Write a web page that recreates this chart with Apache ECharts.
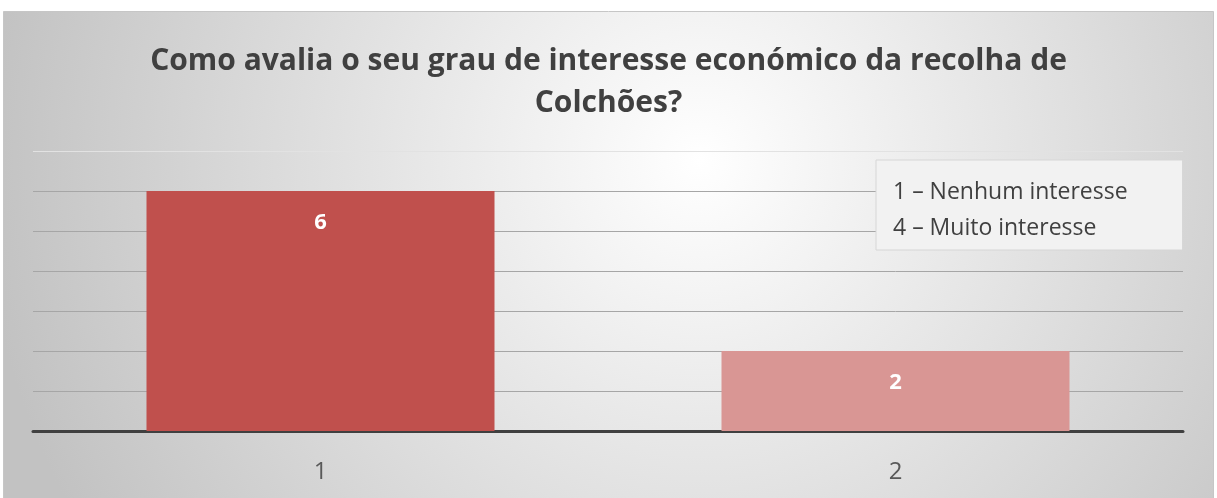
<!DOCTYPE html>
<html><head><meta charset="utf-8">
<script src="https://cdn.jsdelivr.net/npm/echarts@6/dist/echarts.min.js"></script>
<style>html,body{margin:0;padding:0;background:#fff}#c{width:1217px;height:498px}</style>
</head><body><div id="c"></div>
<script>
const titleText = 'Como avalia o seu grau de interesse económico da recolha de\nColchões?';
const categories = ['1', '2'];
const seriesNames = ['1 – Nenhum interesse', '4 – Muito interesse'];
const seriesA = [6, '-'];
const seriesB = ['-', 2];
const yTicks = [0, 1, 2, 3, 4, 5, 6, 7];

const chart = echarts.init(document.getElementById('c'), null, {renderer: 'canvas'});
const FONT = '"Open Sans", "Noto Sans", sans-serif';
const labelCfg = {show: true, position: 'insideTop', distance: 21, color: '#ffffff', fontSize: 22, fontWeight: 'bold', fontFamily: FONT};
chart.setOption({
  animation: false,
  graphic: [{
    type: 'rect', z: -10, silent: true,
    shape: {x: 3.5, y: 11.5, width: 1210, height: 490},
    style: {
      fill: new echarts.graphic.RadialGradient(700, 160, 720, [
        {offset: 0, color: '#ffffff'}, {offset: 1, color: '#c2c2c2'}], true),
      stroke: '#c6c6c6', lineWidth: 1
    }
  }],
  title: {
    text: titleText, left: 'center', top: 35,
    textStyle: {fontFamily: FONT, fontSize: 30, fontWeight: 'bold', color: '#404040', lineHeight: 42}
  },
  legend: {
    data: seriesNames, orient: 'vertical', left: 876, top: 160,
    icon: 'none', itemWidth: 0, itemHeight: 14, itemGap: 10,
    padding: [19, 55, 9, 12],
    backgroundColor: '#f2f2f2', borderColor: '#d6d6d6', borderWidth: 1,
    selectedMode: false,
    textStyle: {fontFamily: FONT, fontSize: 23, color: '#404040', lineHeight: 26, padding: 0}
  },
  grid: {left: 33, right: 34, top: 151, bottom: 67, containLabel: false},
  xAxis: {
    type: 'category', data: categories,
    axisLine: {show: true, lineStyle: {color: '#404040', width: 3}},
    axisTick: {show: false},
    axisLabel: {fontFamily: FONT, fontSize: 24, color: '#595959', margin: 29},
    splitLine: {show: false}
  },
  yAxis: {
    type: 'value', min: yTicks[0], max: yTicks[yTicks.length - 1], interval: 1,
    axisLine: {show: false}, axisTick: {show: false}, axisLabel: {show: false},
    splitLine: {show: true, lineStyle: {color: ['#a6a6a6', '#a6a6a6', '#a6a6a6', '#a6a6a6', '#a6a6a6', '#a6a6a6', '#a6a6a6', '#e2e2e2'], width: 1}}
  },
  series: [
    {name: seriesNames[0], type: 'bar', data: seriesA, barWidth: 348, barGap: '-100%',
     itemStyle: {color: '#C0504D'}, label: labelCfg},
    {name: seriesNames[1], type: 'bar', data: seriesB, barWidth: 348, barGap: '-100%',
     itemStyle: {color: '#D99694'}, label: labelCfg}
  ]
});
</script></body></html>
